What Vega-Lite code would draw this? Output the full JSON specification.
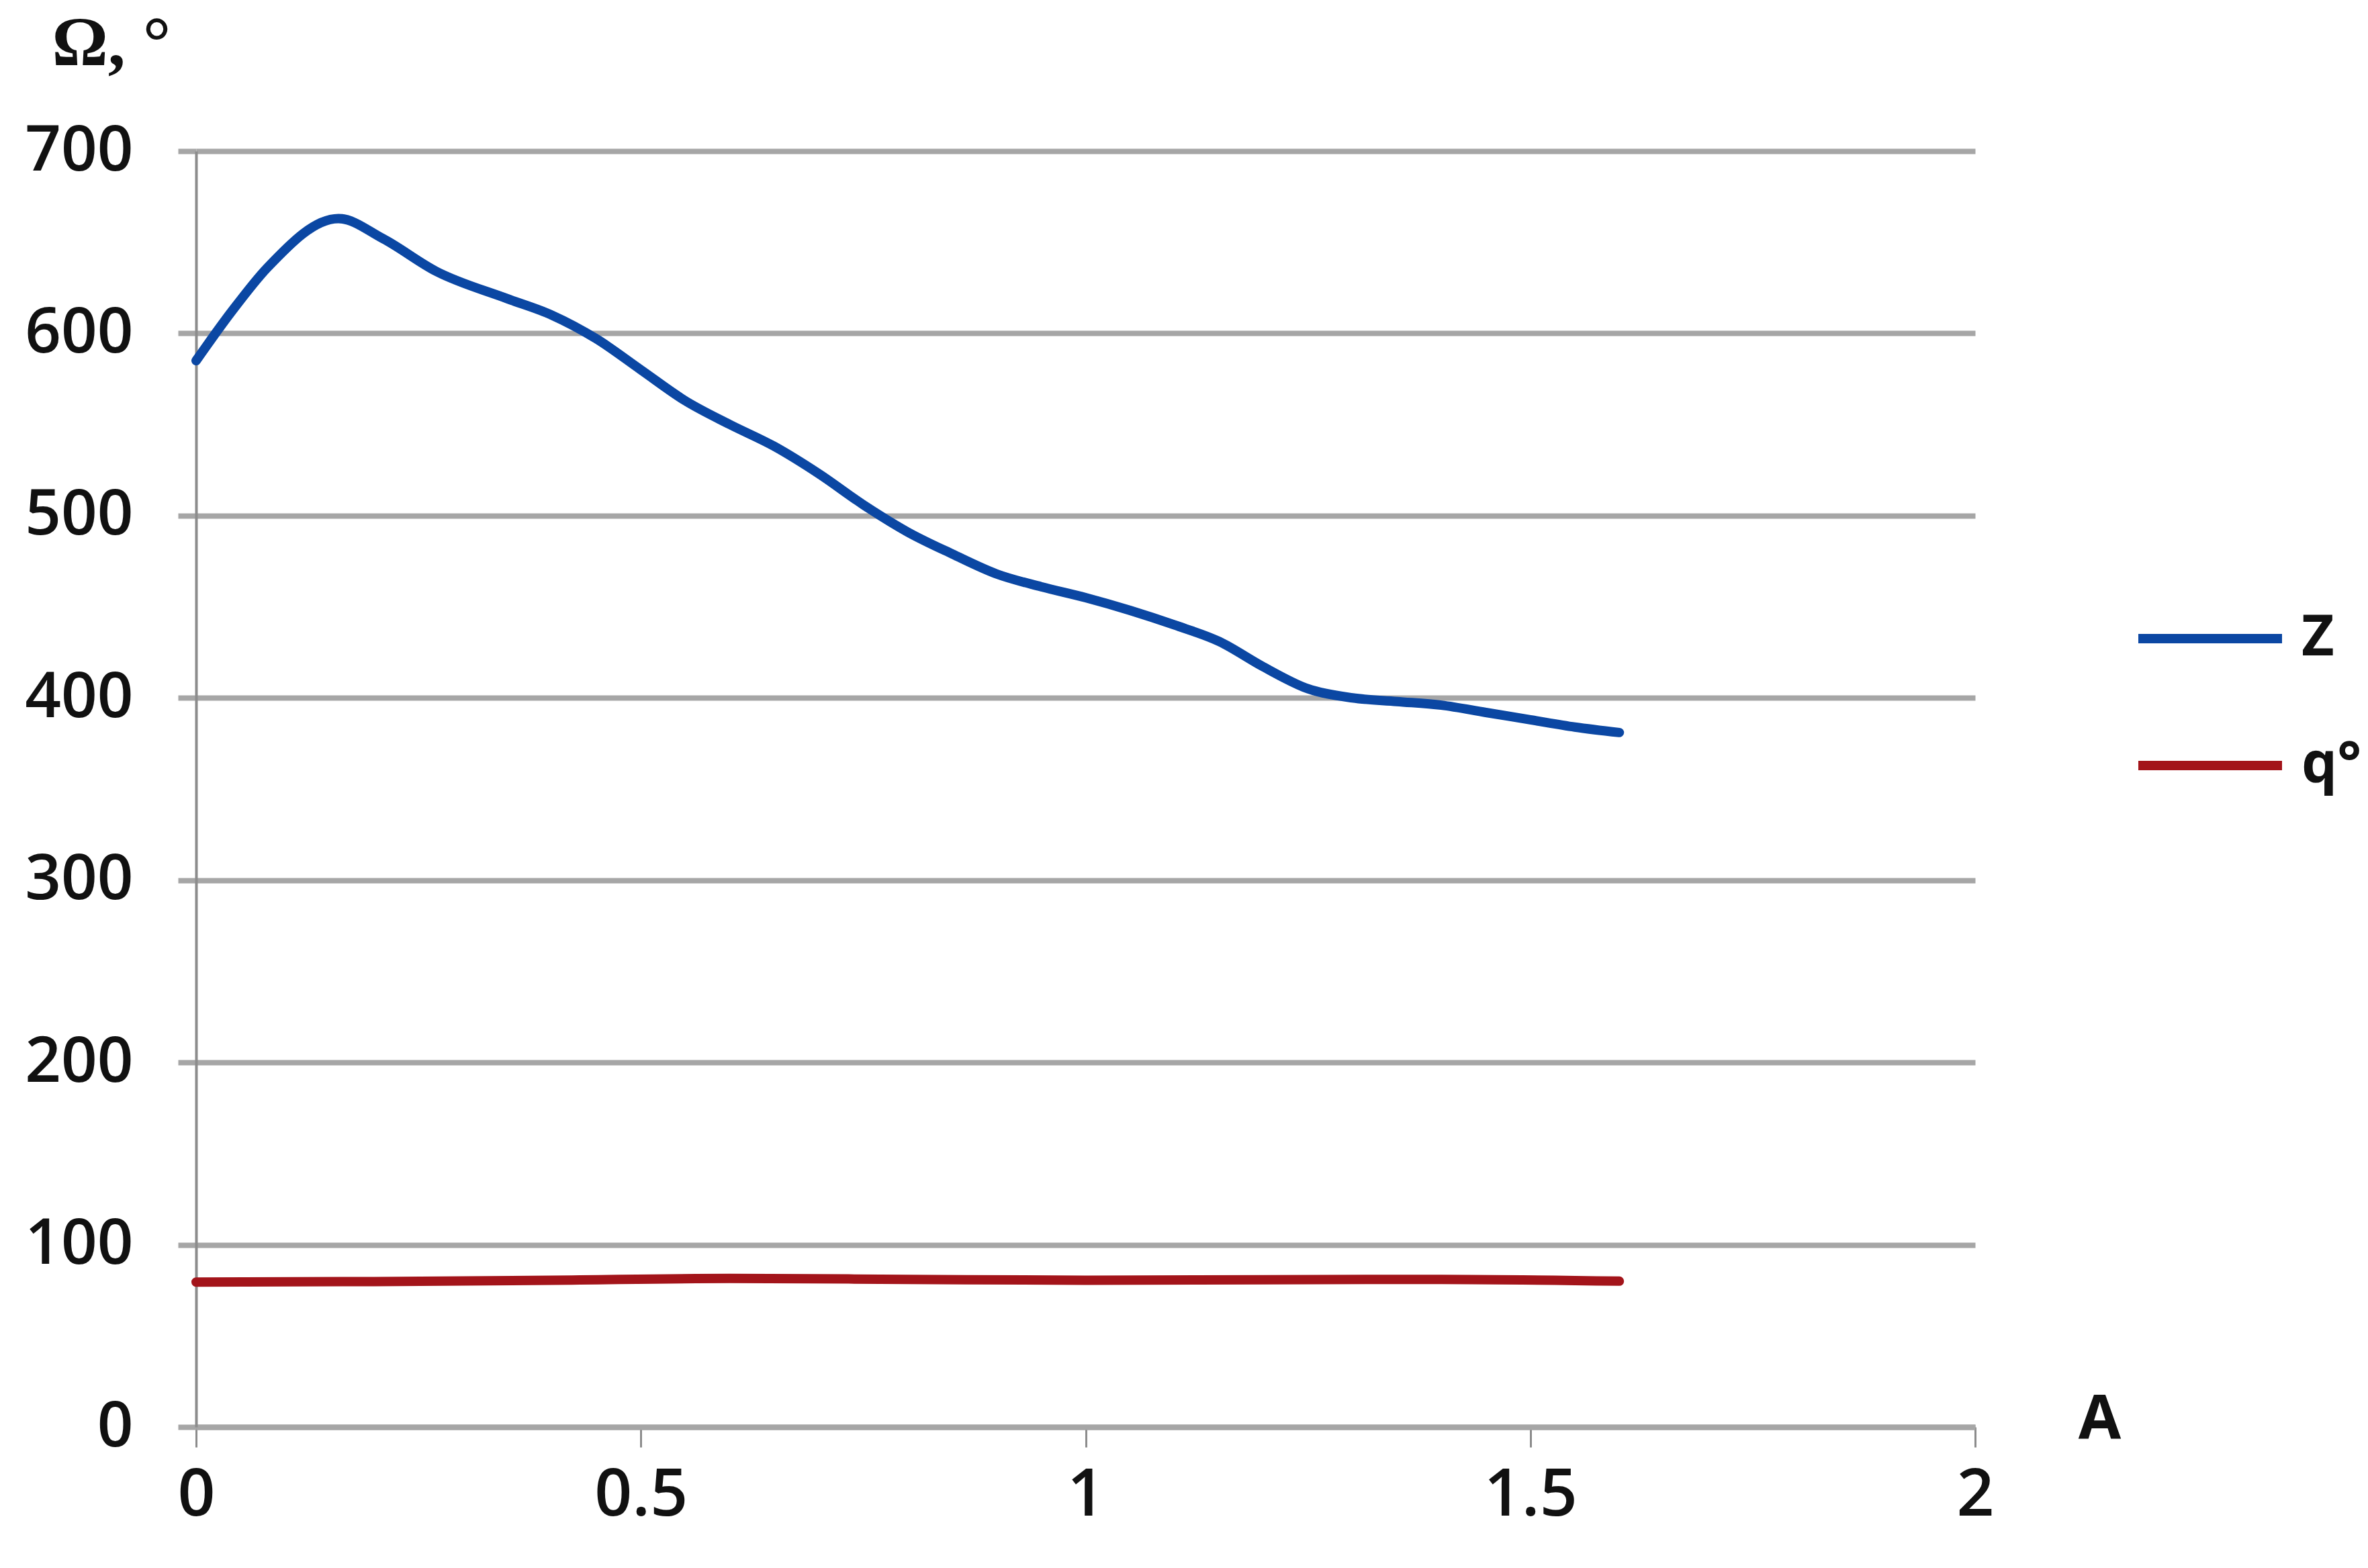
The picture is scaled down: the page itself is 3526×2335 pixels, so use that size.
{
  "$schema": "https://vega.github.io/schema/vega-lite/v6.json",
  "autosize": {"type": "none"},
  "width": 2649,
  "height": 1900,
  "padding": {"left": 292, "top": 225, "right": 585, "bottom": 210},
  "background": "white",
  "config": {
    "view": {"stroke": null},
    "font": "Open Sans"
  },
  "data": {
    "values": [
      {"A": 0, "v": 585, "s": "Z"},
      {"A": 0.04, "v": 612, "s": "Z"},
      {"A": 0.08, "v": 636, "s": "Z"},
      {"A": 0.16, "v": 663, "s": "Z"},
      {"A": 0.21, "v": 652, "s": "Z"},
      {"A": 0.27, "v": 634, "s": "Z"},
      {"A": 0.35, "v": 619, "s": "Z"},
      {"A": 0.4, "v": 610, "s": "Z"},
      {"A": 0.45, "v": 597, "s": "Z"},
      {"A": 0.5, "v": 580, "s": "Z"},
      {"A": 0.55, "v": 563, "s": "Z"},
      {"A": 0.6, "v": 550, "s": "Z"},
      {"A": 0.65, "v": 538, "s": "Z"},
      {"A": 0.7, "v": 523, "s": "Z"},
      {"A": 0.75, "v": 506, "s": "Z"},
      {"A": 0.8, "v": 491, "s": "Z"},
      {"A": 0.85, "v": 479, "s": "Z"},
      {"A": 0.9, "v": 468, "s": "Z"},
      {"A": 0.95, "v": 461, "s": "Z"},
      {"A": 1.0, "v": 455, "s": "Z"},
      {"A": 1.05, "v": 448, "s": "Z"},
      {"A": 1.1, "v": 440, "s": "Z"},
      {"A": 1.15, "v": 431, "s": "Z"},
      {"A": 1.2, "v": 417, "s": "Z"},
      {"A": 1.25, "v": 405, "s": "Z"},
      {"A": 1.3, "v": 400, "s": "Z"},
      {"A": 1.35, "v": 398, "s": "Z"},
      {"A": 1.4, "v": 396, "s": "Z"},
      {"A": 1.45, "v": 392, "s": "Z"},
      {"A": 1.5, "v": 388, "s": "Z"},
      {"A": 1.55, "v": 384, "s": "Z"},
      {"A": 1.6, "v": 381, "s": "Z"},
      {"A": 0, "v": 79.5, "s": "q°"},
      {"A": 0.2, "v": 79.8, "s": "q°"},
      {"A": 0.4, "v": 80.5, "s": "q°"},
      {"A": 0.6, "v": 81.5, "s": "q°"},
      {"A": 0.8, "v": 81, "s": "q°"},
      {"A": 1.0, "v": 80.5, "s": "q°"},
      {"A": 1.2, "v": 80.8, "s": "q°"},
      {"A": 1.4, "v": 81, "s": "q°"},
      {"A": 1.6, "v": 80, "s": "q°"}
    ]
  },
  "mark": {"type": "line", "interpolate": "monotone", "strokeWidth": 14, "strokeCap": "round", "strokeJoin": "round"},
  "encoding": {
    "x": {
      "field": "A",
      "type": "quantitative",
      "scale": {"domain": [0, 2], "nice": false, "zero": false},
      "axis": {
        "values": [0, 0.5, 1, 1.5, 2],
        "labelExpr": "datum.value",
        "grid": false,
        "domain": true,
        "domainColor": "#a6a6a6",
        "domainWidth": 8,
        "ticks": true,
        "tickColor": "#8c8c8c",
        "tickWidth": 3,
        "tickSize": 30,
        "labelPadding": 72,
        "labelFontSize": 98,
        "labelFontWeight": 600,
        "labelColor": "#111111",
        "labelBaseline": "middle",
        "labelFlush": false,
        "title": "A",
        "titleFontSize": 92,
        "titleFontWeight": "bold",
        "titleColor": "#111111",
        "titleX": 2834,
        "titleY": -11,
        "titleAlign": "center",
        "titleBaseline": "middle"
      }
    },
    "y": {
      "field": "v",
      "type": "quantitative",
      "scale": {"domain": [0, 700], "nice": false},
      "axis": {
        "values": [0, 100, 200, 300, 400, 500, 600, 700],
        "grid": true,
        "gridColor": "#a6a6a6",
        "gridWidth": 8,
        "domain": true,
        "domainColor": "#8c8c8c",
        "domainWidth": 4,
        "ticks": true,
        "tickColor": "#a6a6a6",
        "tickWidth": 8,
        "tickSize": 27,
        "labelPadding": 67,
        "labelFontSize": 94,
        "labelFontWeight": 600,
        "labelColor": "#111111",
        "labelFlush": false,
        "title": "Ω, °",
        "titleFont": "Liberation Serif",
        "titleFontSize": 104,
        "titleFontWeight": "bold",
        "titleColor": "#111111",
        "titleAngle": 0,
        "titleX": -215,
        "titleY": -160,
        "titleAlign": "left",
        "titleBaseline": "middle"
      }
    },
    "color": {
      "field": "s",
      "type": "nominal",
      "scale": {"domain": ["Z", "q°"], "range": ["#0b47a3", "#a3141a"]},
      "legend": {
        "orient": "none",
        "legendX": 2885,
        "legendY": 612,
        "title": null,
        "symbolType": "stroke",
        "symbolSize": 45796,
        "symbolStrokeWidth": 14,
        "labelFontSize": 84,
        "labelFontWeight": "bold",
        "labelColor": "#111111",
        "labelOffset": 22,
        "rowPadding": 33
      }
    }
  }
}
